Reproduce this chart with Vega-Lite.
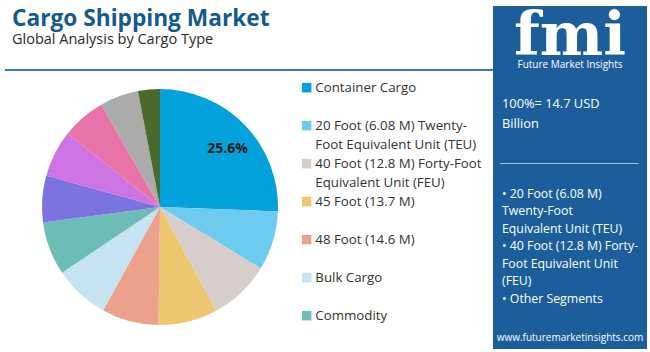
{
  "$schema": "https://vega.github.io/schema/vega-lite/v6.json",
  "padding": {"left": 5, "top": 6, "right": 3, "bottom": 3},
  "background": "white",
  "spacing": 0,
  "config": {
    "view": {"stroke": null},
    "style": {"guide-label": {"lineHeight": 19}}
  },
  "resolve": {"scale": {"color": "independent"}, "legend": {"color": "independent"}},
  "hconcat": [
    {
      "spacing": 0,
      "resolve": {"scale": {"color": "independent"}, "legend": {"color": "independent"}},
      "vconcat": [
        {
          "width": 488,
          "height": 63,
          "data": {"values": [{}]},
          "layer": [
            {
              "mark": {"type": "text", "text": "Cargo Shipping Market", "font": "Open Sans", "fontSize": 22.7, "fontWeight": "bold", "color": "#135b8e", "align": "left", "baseline": "alphabetic", "dx": -237, "dy": -11.5},
              "encoding": {}
            },
            {
              "mark": {"type": "text", "text": "Global Analysis by Cargo Type", "font": "Open Sans", "fontSize": 14.5, "color": "#2a2a2a", "align": "left", "baseline": "alphabetic", "dx": -237, "dy": 6.5},
              "encoding": {}
            }
          ]
        },
        {
          "width": 488,
          "height": 2,
          "view": {"fill": "#3b78b5", "stroke": null},
          "data": {"values": [{}]},
          "mark": {"type": "point", "size": 0, "opacity": 0},
          "encoding": {}
        },
        {
          "width": 310,
          "height": 272,
          "data": {
            "values": [
              {"cargo": "Container Cargo", "share": 25.6},
              {"cargo": "20 Foot (6.08 M) Twenty-Foot Equivalent Unit (TEU)", "share": 8.1},
              {"cargo": "40 Foot (12.8 M) Forty-Foot Equivalent Unit (FEU)", "share": 8.4},
              {"cargo": "45 Foot (13.7 M)", "share": 8.1},
              {"cargo": "48 Foot (14.6 M)", "share": 7.8},
              {"cargo": "Bulk Cargo", "share": 7.6},
              {"cargo": "Commodity", "share": 7.3},
              {"cargo": "Grain", "share": 6.4},
              {"cargo": "Coal", "share": 6.4},
              {"cargo": "Liquid Cargo", "share": 6.0},
              {"cargo": "Crude Oil", "share": 5.3},
              {"cargo": "Others", "share": 3.0}
            ]
          },
          "transform": [
            {"window": [{"op": "row_number", "as": "idx"}]},
            {"joinaggregate": [{"op": "sum", "field": "share", "as": "total"}]},
            {"calculate": "datum.idx == 1 ? format(100 * datum.share / datum.total, '.1f') + '%' : ''", "as": "label"}
          ],
          "encoding": {
            "theta": {"field": "share", "type": "quantitative", "stack": true},
            "order": {"field": "idx", "type": "quantitative"}
          },
          "layer": [
            {
              "mark": {"type": "arc", "outerRadius": 118, "stroke": null},
              "encoding": {
                "color": {
                  "field": "cargo",
                  "type": "nominal",
                  "scale": {
                    "domain": ["Container Cargo", "20 Foot (6.08 M) Twenty-Foot Equivalent Unit (TEU)", "40 Foot (12.8 M) Forty-Foot Equivalent Unit (FEU)", "45 Foot (13.7 M)", "48 Foot (14.6 M)", "Bulk Cargo", "Commodity", "Grain", "Coal", "Liquid Cargo", "Crude Oil", "Others"],
                    "range": ["#04a2dc", "#6dcbef", "#d7cdca", "#edc76f", "#eca18a", "#c5e3f3", "#6dbdb7", "#7a73e0", "#cd73e3", "#e873a8", "#ababab", "#496a2c"]
                  },
                  "legend": {
                    "values": ["Container Cargo", "20 Foot (6.08 M) Twenty-Foot Equivalent Unit (TEU)", "40 Foot (12.8 M) Forty-Foot Equivalent Unit (FEU)", "45 Foot (13.7 M)", "48 Foot (14.6 M)", "Bulk Cargo", "Commodity"],
                    "title": null,
                    "orient": "right",
                    "offset": -25,
                    "padding": 10,
                    "symbolType": "square",
                    "symbolSize": 90,
                    "symbolStrokeWidth": 0,
                    "labelOffset": 2,
                    "rowPadding": 5,
                    "labelFont": "Open Sans",
                    "labelFontSize": 13.3,
                    "labelColor": "#333333",
                    "labelLimit": 300,
                    "labelExpr": "datum.label == '20 Foot (6.08 M) Twenty-Foot Equivalent Unit (TEU)' ? ['20 Foot (6.08 M) Twenty-', 'Foot Equivalent Unit (TEU)'] : datum.label == '40 Foot (12.8 M) Forty-Foot Equivalent Unit (FEU)' ? ['40 Foot (12.8 M) Forty-Foot', 'Equivalent Unit (FEU)'] : [datum.label, '']"
                  }
                }
              }
            },
            {
              "mark": {"type": "text", "radius": 91, "dx": 2, "dy": 5, "font": "Open Sans", "fontWeight": "bold", "fontSize": 14, "color": "#1a1a1a"},
              "encoding": {"text": {"field": "label"}}
            }
          ]
        }
      ]
    },
    {
      "width": 154,
      "height": 343,
      "view": {"fill": "#1b5e9b", "stroke": null},
      "data": {"values": [{}]},
      "layer": [
        {
          "mark": {"type": "text", "text": "fmi", "font": "DejaVu Serif", "fontWeight": "bold", "fontSize": 60, "color": "white", "align": "center", "baseline": "alphabetic", "dy": -122.5},
          "encoding": {}
        },
        {
          "mark": {"type": "text", "text": "Future Market Insights", "font": "Open Sans", "fontSize": 10, "color": "white", "align": "center", "baseline": "alphabetic", "dy": -110},
          "encoding": {}
        },
        {
          "mark": {"type": "text", "text": ["100%= 14.7 USD", "Billion"], "font": "Open Sans", "fontSize": 12.8, "lineHeight": 20, "color": "white", "align": "left", "baseline": "alphabetic", "dx": -68, "dy": -69.5},
          "encoding": {}
        },
        {
          "mark": {"type": "text", "text": "───────────────────────", "font": "DejaVu Sans", "fontSize": 10, "color": "#b9cde3", "align": "center", "baseline": "middle", "dx": -1, "dy": -13.5},
          "encoding": {}
        },
        {
          "mark": {"type": "text", "text": ["• 20 Foot (6.08 M)", "Twenty-Foot", "Equivalent Unit (TEU)", "• 40 Foot (12.8 M) Forty-", "Foot Equivalent Unit", "(FEU)", "• Other Segments"], "font": "Open Sans", "fontSize": 12.3, "lineHeight": 17.5, "color": "white", "align": "left", "baseline": "alphabetic", "dx": -68, "dy": 20},
          "encoding": {}
        },
        {
          "mark": {"type": "text", "text": "www.futuremarketinsights.com", "font": "Open Sans", "fontSize": 10, "color": "white", "align": "center", "baseline": "alphabetic", "dy": 163},
          "encoding": {}
        }
      ]
    }
  ]
}
